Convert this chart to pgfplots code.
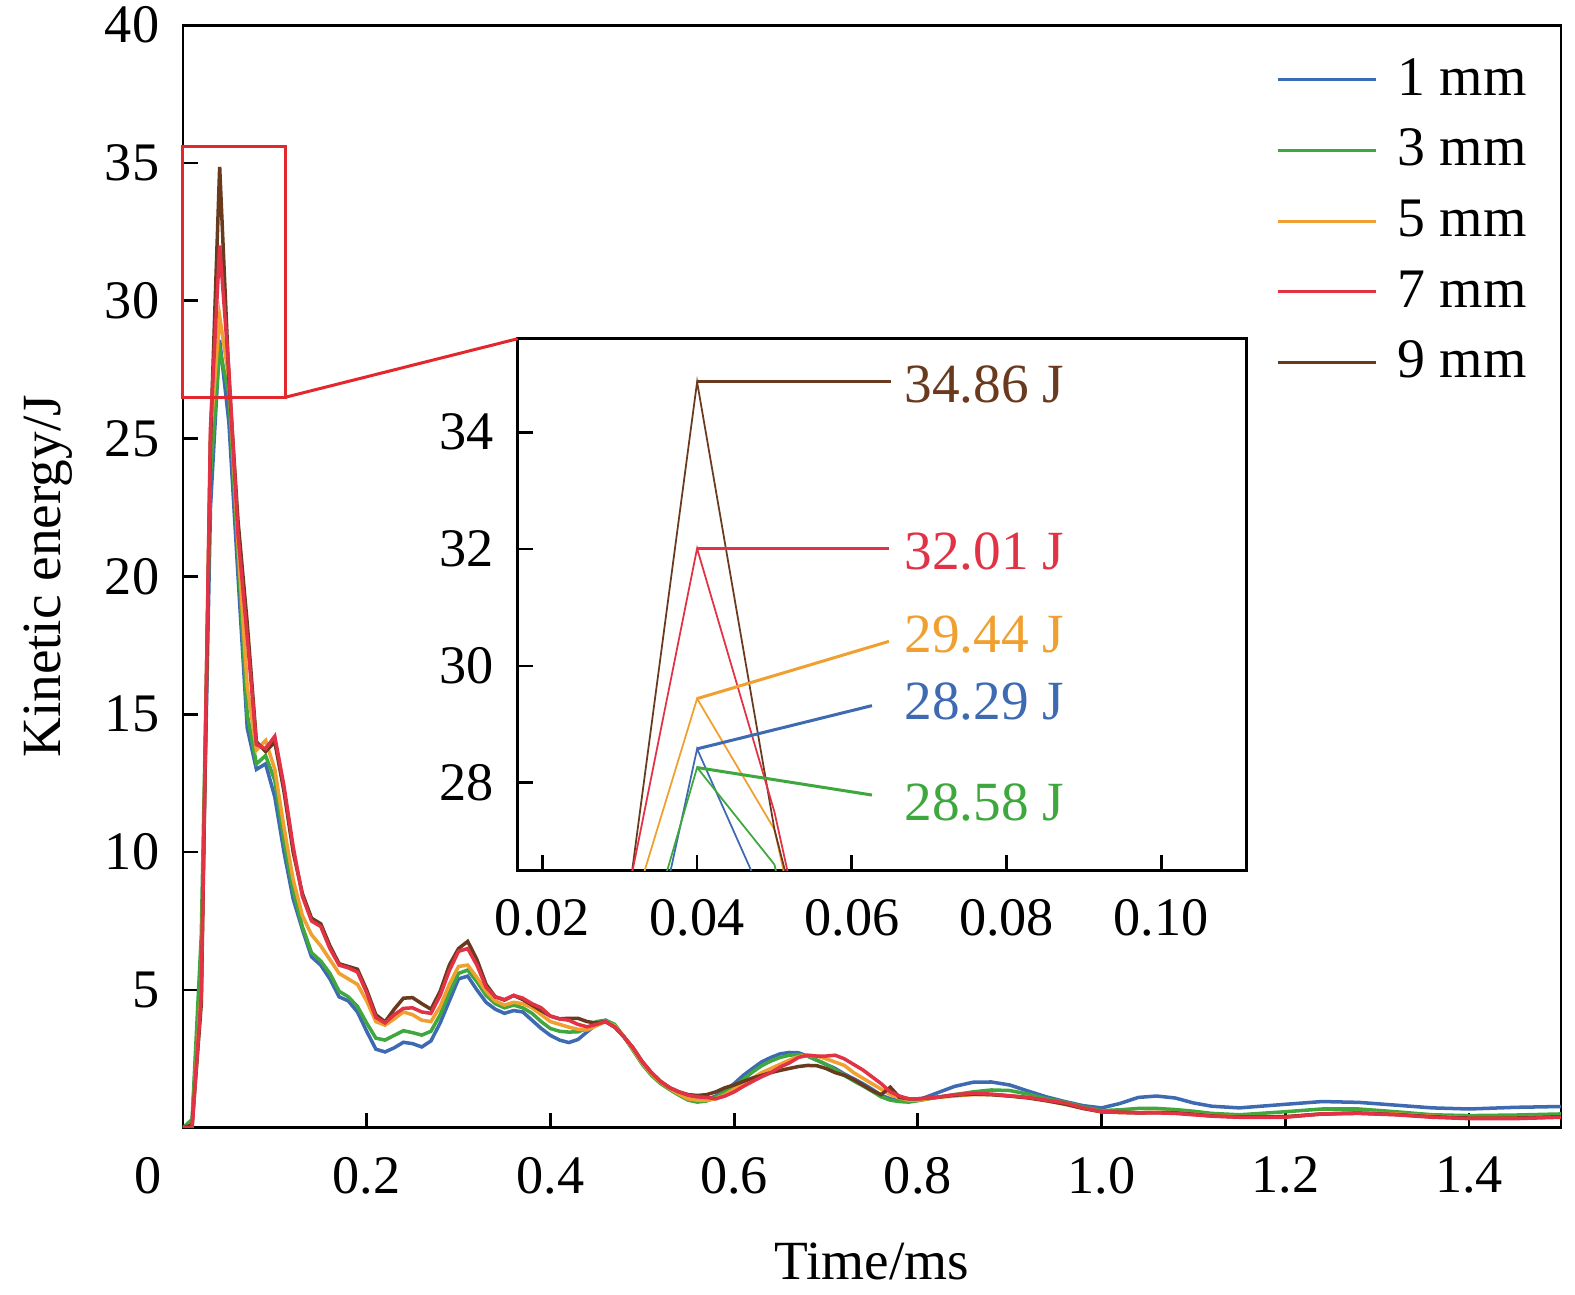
\documentclass[border=0pt]{standalone}
\usepackage{fontspec}
\setmainfont{Liberation Serif}
\usepackage{pgfplots}
\pgfplotsset{compat=1.18}
\usepackage{pgfplotstable}

\definecolor{cB}{RGB}{62,106,178}
\definecolor{cG}{RGB}{62,168,62}
\definecolor{cO}{RGB}{240,160,48}
\definecolor{cR}{RGB}{226,50,70}
\definecolor{cK}{RGB}{106,58,30}
\definecolor{cBox}{RGB}{226,40,45}

\pgfplotstableread{
t b g o r k
0 0 0 0 0 0
0.01 0.2 0.3 0.1 0.0 0.1
0.02 6.0 7.0 5.0 4.8 4.5
0.03 22.5 23.7 25.1 25.4 24.9
0.04 28.58 28.26 29.44 32.01 34.86
0.05 25.6 26.6 27.2 27.5 27.2
0.06 20.0 20.8 21.2 21.5 22.0
0.07 14.5 15.0 16.0 17.8 18.3
0.08 13.0 13.2 13.7 13.9 14.0
0.09 13.2 13.5 14.05 13.75 13.65
0.10 12.0 12.6 13.0 14.2 14.0
0.11 10.0 10.4 10.9 12.4 12.2
0.12 8.3 8.6 9.0 10.2 10.0
0.13 7.2 7.3 7.7 8.4 8.5
0.14 6.2 6.35 7.0 7.5 7.6
0.15 5.9 6.05 6.6 7.3 7.4
0.16 5.4 5.6 6.1 6.5 6.6
0.17 4.75 4.95 5.6 5.9 5.95
0.18 4.6 4.75 5.4 5.8 5.85
0.19 4.2 4.4 5.2 5.65 5.75
0.20 3.5 3.8 4.6 4.9 5.0
0.21 2.85 3.25 3.85 4.0 4.1
0.22 2.75 3.18 3.72 3.8 3.84
0.23 2.9 3.35 3.95 4.1 4.3
0.24 3.1 3.52 4.2 4.33 4.7
0.25 3.05 3.45 4.1 4.35 4.72
0.26 2.93 3.36 3.9 4.2 4.5
0.27 3.15 3.5 3.85 4.15 4.3
0.28 3.8 4.1 4.4 4.8 4.95
0.29 4.6 4.9 5.2 5.7 5.9
0.30 5.4 5.6 5.85 6.4 6.5
0.31 5.5 5.72 5.9 6.5 6.76
0.32 5.0 5.3 5.45 5.9 6.1
0.33 4.55 4.8 4.95 5.1 5.2
0.34 4.3 4.5 4.6 4.75 4.75
0.35 4.15 4.35 4.45 4.65 4.63
0.36 4.25 4.45 4.55 4.8 4.8
0.37 4.2 4.35 4.5 4.7 4.65
0.38 3.9 4.15 4.35 4.5 4.45
0.39 3.6 3.85 4.1 4.35 4.25
0.40 3.35 3.6 3.85 4.05 4.05
0.41 3.18 3.5 3.75 3.95 3.95
0.42 3.09 3.47 3.65 3.9 3.97
0.43 3.2 3.48 3.57 3.75 3.97
0.44 3.48 3.6 3.55 3.66 3.85
0.45 3.75 3.85 3.7 3.75 3.8
0.46 3.9 3.9 3.85 3.85 3.85
0.47 3.7 3.75 3.7 3.65 3.65
0.48 3.3 3.3 3.3 3.3 3.3
0.49 2.87 2.8 2.85 2.9 2.9
0.50 2.35 2.3 2.35 2.4 2.4
0.51 1.95 1.9 1.95 2.0 2.0
0.52 1.65 1.6 1.65 1.68 1.68
0.53 1.43 1.38 1.42 1.45 1.45
0.54 1.25 1.18 1.22 1.3 1.3
0.55 1.1 1.0 1.05 1.18 1.2
0.56 1.0 0.93 1.0 1.12 1.17
0.57 1.02 0.97 0.99 1.1 1.2
0.58 1.15 1.1 1.05 1.05 1.3
0.59 1.35 1.3 1.2 1.15 1.45
0.60 1.6 1.5 1.4 1.3 1.55
0.61 1.9 1.75 1.6 1.5 1.68
0.62 2.15 2.02 1.8 1.68 1.8
0.63 2.39 2.25 2.0 1.85 1.9
0.64 2.55 2.42 2.15 2.0 2.0
0.65 2.68 2.55 2.3 2.2 2.08
0.66 2.73 2.63 2.45 2.35 2.15
0.67 2.72 2.66 2.58 2.55 2.22
0.68 2.6 2.6 2.63 2.63 2.26
0.69 2.45 2.45 2.6 2.6 2.25
0.70 2.3 2.3 2.5 2.6 2.15
0.71 2.15 2.1 2.38 2.63 2.0
0.72 1.95 1.9 2.26 2.5 1.9
0.73 1.78 1.7 2.0 2.3 1.75
0.74 1.6 1.52 1.8 2.1 1.55
0.75 1.4 1.33 1.6 1.85 1.35
0.76 1.18 1.12 1.4 1.6 1.2
0.77 1.05 1.0 1.2 1.3 1.47
0.78 0.97 0.95 1.08 1.15 1.1
0.79 0.95 0.93 1.0 1.05 1.05
0.80 1.0 0.98 1.0 1.05 1.05
0.82 1.25 1.1 1.1 1.1 1.1
0.84 1.5 1.2 1.15 1.2 1.18
0.86 1.65 1.3 1.2 1.25 1.22
0.88 1.66 1.37 1.2 1.22 1.2
0.90 1.55 1.35 1.15 1.16 1.15
0.92 1.33 1.22 1.1 1.1 1.08
0.94 1.12 1.05 0.98 1.0 0.98
0.96 0.95 0.93 0.85 0.9 0.86
0.98 0.8 0.75 0.7 0.72 0.7
1.00 0.72 0.62 0.58 0.58 0.58
1.02 0.88 0.65 0.55 0.56 0.56
1.04 1.1 0.7 0.55 0.54 0.54
1.06 1.15 0.7 0.56 0.54 0.55
1.08 1.08 0.66 0.55 0.52 0.54
1.10 0.9 0.6 0.5 0.47 0.49
1.12 0.78 0.52 0.44 0.42 0.43
1.15 0.72 0.47 0.4 0.38 0.39
1.20 0.85 0.58 0.4 0.38 0.4
1.24 0.95 0.68 0.5 0.5 0.5
1.28 0.92 0.68 0.55 0.52 0.53
1.32 0.82 0.58 0.5 0.47 0.48
1.36 0.72 0.47 0.42 0.38 0.4
1.40 0.68 0.44 0.36 0.33 0.35
1.45 0.74 0.46 0.36 0.33 0.35
1.50 0.77 0.5 0.4 0.38 0.4
}\data

\begin{document}
\begin{tikzpicture}
\pgfplotsset{
  every axis/.append style={
    scale only axis,
    clip mode=individual,
    tick align=inside,
    xtick pos=left, ytick pos=left,
    major tick length=3pt,
    axis line style={line width=0.55pt, black},
    every tick/.style={line width=0.55pt, black},
    tick label style={font=\fontsize{10.8}{13}\selectfont},
    yticklabel style={xshift=-1.2pt},
    xticklabel style={yshift=-2.3pt},
  }
}
\begin{axis}[
  name=main,
  width=274.2pt, height=219.4pt,
  xmin=0, xmax=1.5, ymin=0, ymax=40,
  xtick={0.2,0.4,0.6,0.8,1.0,1.2,1.4},
  xticklabels={0.2,0.4,0.6,0.8,1.0,1.2,1.4},
  ytick={5,10,15,20,25,30,35,40},
  yticklabels={5,10,15,20,25,30,35,40},
  xlabel={Time/ms},
  ylabel={Kinetic energy/J},
  label style={font=\fontsize{11}{13}\selectfont},
  xlabel style={at={(axis description cs:0.5,-0.1214)}, anchor=center},
  ylabel style={at={(axis description cs:-0.0975,0.5)}, anchor=center},
  legend style={draw=none, fill=none, at={(axis cs:1.4624,38.79)}, anchor=north east,
    inner sep=0pt, outer sep=0pt, row sep=6.75pt, column sep=4pt,
    font=\fontsize{11.1}{13}\selectfont,
    nodes={inner sep=0pt, text height=7.3pt, text depth=0pt}},
  legend cell align=left,
  legend image code/.code={\draw[#1] (0pt,-0.6pt) -- (19.6pt,-0.6pt);},
]
\addplot[cB, line width=0.7pt, forget plot] table[x=t,y=b]{\data};
\addplot[cG, line width=0.7pt, forget plot] table[x=t,y=g]{\data};
\addplot[cO, line width=0.7pt, forget plot] table[x=t,y=o]{\data};
\addplot[cK, line width=0.7pt, forget plot] table[x=t,y=k]{\data};
\addplot[cR, line width=0.7pt, forget plot] table[x=t,y=r]{\data};
\addlegendimage{cB, line width=0.6pt}\addlegendentry{1 mm}
\addlegendimage{cG, line width=0.6pt}\addlegendentry{3 mm}
\addlegendimage{cO, line width=0.6pt}\addlegendentry{5 mm}
\addlegendimage{cR, line width=0.6pt}\addlegendentry{7 mm}
\addlegendimage{cK, line width=0.6pt}\addlegendentry{9 mm}
\draw[cBox, line width=0.6pt] (axis cs:0,26.5) rectangle (axis cs:0.1115,35.6);
\coordinate (boxcorner) at (axis cs:0.1115,26.5);
\node[font=\fontsize{10.8}{13}\selectfont, inner sep=0pt] at (axis cs:0,0) [xshift=-7pt, yshift=-9.6pt] {0};
\end{axis}

\begin{axis}[
  name=inset,
  at={(66.6pt,51.2pt)}, anchor=south west,
  width=145pt, height=105.8pt,
  xmin=0.0168, xmax=0.111, ymin=26.5, ymax=35.6,
  xtick={0.02,0.04,0.06,0.08,0.10},
  xticklabels={0.02,0.04,0.06,0.08,0.10},
  ytick={28,30,32,34},
  yticklabels={28,30,32,34},
  axis background/.style={fill=white},
]
\addplot[cB, line width=0.35pt] table[x=t,y=b]{\data};
\addplot[cG, line width=0.35pt] table[x=t,y=g]{\data};
\addplot[cO, line width=0.35pt] table[x=t,y=o]{\data};
\addplot[cK, line width=0.35pt] table[x=t,y=k]{\data};
\addplot[cR, line width=0.35pt] table[x=t,y=r]{\data};
\draw[cK, line width=0.6pt] (axis cs:0.04,34.86) -- (axis cs:0.0651,34.86);
\draw[cR, line width=0.6pt] (axis cs:0.04,32.01) -- (axis cs:0.0648,32.01);
\draw[cO, line width=0.6pt] (axis cs:0.04,29.44) -- (axis cs:0.0648,30.42);
\draw[cB, line width=0.6pt] (axis cs:0.04,28.58) -- (axis cs:0.0626,29.32);
\draw[cG, line width=0.6pt] (axis cs:0.04,28.26) -- (axis cs:0.0626,27.79);
\begin{scope}[every node/.style={anchor=west, inner sep=0pt, font=\fontsize{11}{13}\selectfont}]
\node[cK] at (axis cs:0.0667,34.81) {34.86 J};
\node[cR] at (axis cs:0.0667,31.96) {32.01 J};
\node[cO] at (axis cs:0.0667,30.54) {29.44 J};
\node[cB] at (axis cs:0.0667,29.39) {28.29 J};
\node[cG] at (axis cs:0.0667,27.67) {28.58 J};
\end{scope}
\end{axis}

\draw[cBox, line width=0.6pt] (boxcorner) -- (inset.north west);

\pgfresetboundingbox
\useasboundingbox (-36.4pt,-33.2pt) rectangle (277.0pt,224.4pt);
\end{tikzpicture}
\end{document}
